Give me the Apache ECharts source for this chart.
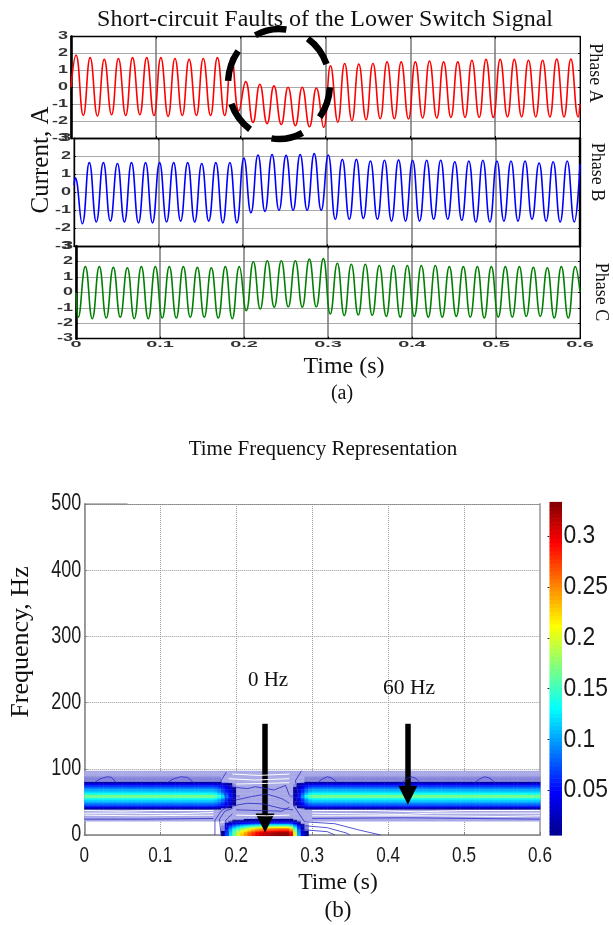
<!DOCTYPE html>
<html><head><meta charset="utf-8">
<style>html,body{margin:0;padding:0;background:#fff}#c{width:613px;height:925px}</style>
<script src="https://cdn.jsdelivr.net/npm/echarts@6/dist/echarts.min.js"></script>
</head><body><div id="c"></div>
<script>
// ---------- Panel (a): half-cycle extrema, one per 60 Hz cycle
const timeTicks = [0,0.1,0.2,0.3,0.4,0.5,0.6];
const currentTicks = [-3,-2,-1,0,1,2,3];
const freqTicks = [0,100,200,300,400,500];
const cyclePeriod = 0.016667;
const phaseAPeaks = [1.9,1.75,1.65,1.7,1.75,1.75,1.75,1.7,1.65,1.7,1.75,1.75,0.33,0.18,0.08,0,0,-0.05,1.27,1.4,1.37,1.4,1.5,1.5,1.5,1.55,1.5,1.5,1.6,1.65,1.65,1.65,1.6,1.6,1.66,1.66];
const phaseATroughs = [-1.67,-1.7,-1.63,-1.67,-1.63,-1.67,-1.72,-1.67,-1.67,-1.67,-1.67,-1.4,-2.08,-2.15,-2.2,-2.27,-2.33,-2.37,-2.06,-1.98,-1.92,-1.86,-1.86,-1.88,-1.82,-1.82,-1.78,-1.78,-1.78,-1.78,-1.75,-1.75,-1.75,-1.75,-1.75,-1.76];
const phaseBPeaks = [0.8,1.65,1.65,1.6,1.65,1.65,1.65,1.65,1.65,1.6,1.65,1.65,1.9,2.07,2.1,2.05,2.1,2.15,2.07,1.83,1.83,1.74,1.78,1.8,1.78,1.78,1.78,1.7,1.74,1.78,1.74,1.74,1.74,1.63,1.7,1.74];
const phaseBTroughs = [-1.75,-1.65,-1.6,-1.65,-1.7,-1.7,-1.65,-1.6,-1.65,-1.6,-1.7,-1.7,-1.14,-1.06,-1,-1,-1,-1,-1.5,-1.5,-1.45,-1.5,-1.6,-1.6,-1.6,-1.5,-1.5,-1.55,-1.65,-1.65,-1.6,-1.6,-1.5,-1.6,-1.65,-1.65];
const phaseCPeaks = [1.68,1.68,1.63,1.6,1.68,1.68,1.68,1.68,1.63,1.6,1.68,1.68,2,2.06,2.06,2.06,2.17,2.2,1.9,1.83,1.83,1.75,1.75,1.75,1.75,1.75,1.68,1.68,1.68,1.68,1.68,1.68,1.63,1.6,1.68,1.68];
const phaseCTroughs = [-1.6,-1.7,-1.66,-1.6,-1.7,-1.7,-1.66,-1.66,-1.6,-1.6,-1.66,-1.7,-1.18,-1.07,-0.95,-0.93,-0.95,-0.93,-1.4,-1.5,-1.46,-1.48,-1.55,-1.6,-1.55,-1.6,-1.6,-1.55,-1.6,-1.65,-1.6,-1.6,-1.55,-1.55,-1.65,-1.65];
const phaseAEnds = [[0,0],[0.6,-1.0]];
const phaseBEnds = [[0,0.4],[0.6,1.55]];
const phaseCEnds = [[0,0],[0.6,0.05]];
const phaseATimes = [0.0059,0.0145];   // first peak, first trough
const phaseBTimes = [0.0015,0.0098];
const phaseCTimes = [0.0111,0.0027];

// ---------- Panel (b): time-frequency table
const bandFreqs   = [22,24,26,28,30,32,34,36,38,40,42,44,46,48,50,52,54,56,58,60,62,64,66,68,70,72,74,76,78,80,82,84,86,88,90,92,94,96];
const bandLevels  = [.003,.003,.003,.003,.003,.0035,.0035,.0035,.0035,.012,.03,.055,.075,.09,.1,.11,.125,.14,.165,.165,.14,.125,.11,.103,.095,.08,.065,.05,.03,.012,.006,.006,.006,.006,.003,.003,.003,.003];
const faultColumnStart = 0.165;
const bandFaultGain = [1,.95,.85,.7,.5,.3,.12,.03,.02,.02,.02,.02,.02,.02,.02,.02,.02,.02,.02,.02,.02,.03,.12,.3,.55,.8,.95,1];
const dcFreqs  = [0,2,4,6,8,10,12,14,16,18,20,22,24,26];
const dcLevels = [.33,.33,.32,.3,.28,.25,.21,.17,.12,.07,.04,.02,.012,.005];
const dcFaultGain = [0,0,0,.03,.2,.36,.5,.6,.68,.74,.8,.85,.9,.93,.95,.96,.98,.99,1,1,1,.9,.6,.3,.1,.03,0,0];
const colorbarTicks = [0.05,0.1,0.15,0.2,0.25,0.3];
const contourHumps = [
  [[.013,79],[.021,85],[.03,88],[.036,87],[.042,79]],
  [[.109,79],[.118,85],[.127,88],[.136,87],[.144,79]],
  [[.307,79],[.314,85],[.32,88],[.326,86],[.333,79]],
  [[.418,79],[.424,85],[.43,88],[.436,86],[.442,79]],
  [[.514,79],[.521,85],[.527,88],[.534,86],[.54,79]],
  [[.19,55],[.2,53],[.22,58],[.24,62],[.26,55],[.27,48]],
  [[.195,44],[.215,48],[.235,47],[.26,40],[.275,38]],
  [[.2,38],[.23,37],[.26,36],[.27,42]],
  [[.19,73],[.215,70],[.225,73],[.25,68],[.265,75],[.27,60]],
  [[.172,0],[.172,22],[.18,36],[.19,44],[.185,60],[.18,82],[.187,95]],
  [[.18,0],[.178,24],[.185,36],[.195,40]],
  [[.19,0],[.186,22],[.195,32]],
  [[.286,97],[.278,82],[.282,60],[.276,44],[.284,30],[.29,20]],
  [[.29,20],[.33,17],[.36,8],[.39,0]],
  [[.29,14],[.32,11],[.345,3],[.35,0]],
  [[.288,8],[.32,5],[.33,0]],
  [[.0,24],[.08,24],[.17,25]],
  [[.3,25],[.42,26],[.6,24]]
];
const whiteStreaks = [
  [[0,37],[.05,36],[.09,37],[.17,37]],
  [[0,33],[.06,33],[.12,32],[.17,34]],
  [[0,30],[.07,29],[.17,30]],
  [[.3,37],[.38,37],[.44,35],[.5,37],[.6,37]],
  [[.3,33],[.42,31],[.46,33],[.6,33]],
  [[.3,29],[.45,29],[.55,28],[.6,29]],
  [[.195,92],[.23,90],[.27,92]],
  [[.19,85],[.225,83],[.27,85]],
  [[.2,77],[.24,78],[.27,79]],
  [[.2,30],[.24,29],[.27,30]]
];
const topStub = [[0,500.6],[0.057,500.6]];
const arrows = [[[0.238,168],[0.238,18]],[[0.426,168],[0.426,60]]];
const jetStops = [[0,[0,0,143]],[.125,[0,0,255]],[.375,[0,255,255]],[.625,[255,255,0]],[.875,[255,0,0]],[1,[128,0,0]]];
const colorRange = [0.0059,0.3328];

function jet(v){
  if(v<0.0045) return '#a8a8e6';
  if(v<0.0085) return '#8585da';
  const p=Math.min(1,Math.max(0,(v-colorRange[0])/(colorRange[1]-colorRange[0])));
  for(let i=1;i<jetStops.length;i++){
    if(p<=jetStops[i][0]){
      const a=jetStops[i-1],b=jetStops[i],k=(p-a[0])/(b[0]-a[0]);
      return 'rgb('+a[1].map((c,j)=>Math.round(c+(b[1][j]-c)*k)).join(',')+')';
    }
  }
  return 'rgb(128,0,0)';
}
function wave(peaks,troughs,times,ends){
  const pts=[ends[0]];
  peaks.forEach((v,k)=>pts.push([times[0]+k*cyclePeriod,v]));
  troughs.forEach((v,k)=>pts.push([times[1]+k*cyclePeriod,v]));
  pts.push(ends[1]);
  return pts.sort((a,b)=>a[0]-b[0]);
}
// heat cells
const heatCells=[];
for(let i=0;i<120;i++){
  const t=i*0.005+0.0025;
  const c=Math.round((t-0.0025-faultColumnStart)/0.005);
  const inFault=c>=0&&c<bandFaultGain.length;
  const bg=inFault?bandFaultGain[c]:1, dg=inFault?dcFaultGain[c]:0;
  const cells={};
  bandFreqs.forEach((f,j)=>{
    let v=bandLevels[j]*bg;
    if(v<0.003) v=0.003;
    cells[f]=v;
  });
  dcFreqs.forEach((f,j)=>{
    const v=dcLevels[j]*dg;
    if(v>(cells[f]||0)) cells[f]=v;
  });
  Object.keys(cells).forEach(f=>{ if(cells[f]>=0.002) heatCells.push([t,+f,cells[f]]); });
}
const barCells=[];
for(let v=colorRange[0];v<colorRange[1];v+=0.004) barCells.push([0.5,v]);

function axisPair(gridIndex){
  return [
   {gridIndex,type:'value',min:0,max:0.6,interval:0.1,position:'bottom',
    axisLine:{show:true,onZero:false,lineStyle:{color:'#000',width:1.4}},
    axisTick:{show:true,inside:true,length:2,lineStyle:{color:'#000'}},
    axisLabel:{show:false},
    splitLine:{show:true,lineStyle:{color:'#777',width:1.5}}},
   {gridIndex,type:'value',min:0,max:0.6,interval:0.1,position:'top',
    axisLine:{show:true,onZero:false,lineStyle:{color:'#000',width:1.4}},
    axisTick:{show:true,inside:true,length:2,lineStyle:{color:'#000'}},
    axisLabel:{show:false},splitLine:{show:false}}
  ];
}
function yPair(gridIndex,leftWidth,rightWidth){
  return [
   {gridIndex,type:'value',min:-3,max:3,interval:1,position:'left',
    axisLine:{show:true,onZero:false,lineStyle:{color:'#000',width:leftWidth}},
    axisTick:{show:true,inside:true,length:2,lineStyle:{color:'#000'}},
    axisLabel:{show:false},
    splitLine:{show:true,lineStyle:{color:'#aaa',width:1}}},
   {gridIndex,type:'value',min:-3,max:3,interval:1,position:'right',
    axisLine:{show:true,onZero:false,lineStyle:{color:'#000',width:rightWidth}},
    axisTick:{show:true,inside:true,length:2,lineStyle:{color:'#000'}},
    axisLabel:{show:false},splitLine:{show:false}}
  ];
}
const serif='"Liberation Serif","Times New Roman",serif';
const sans='"Liberation Sans",Arial,sans-serif';
function txt(s,x,y,size,rot){
  return {type:'text',x,y,rotation:rot||0,z:50,silent:true,
    style:{text:s,font:size+'px '+serif,fill:'#111',textAlign:'center',textVerticalAlign:'middle'}};
}
// Tick labels are stretched in the source figure, so they are drawn at axis positions through the axes' own scales.
function tickSeries(xi,yi,pts,o){
  return {type:'custom',xAxisIndex:xi,yAxisIndex:yi,data:pts.map(p=>[p[0],p[1]]),encode:{x:0,y:1},silent:true,clip:false,z:12,
    renderItem:(p,api)=>{
      const c=api.coord([api.value(0),api.value(1)]);
      return {type:'text',x:c[0]+(o.dx||0),y:c[1]+(o.dy||0),scaleX:o.sx,scaleY:o.sy||1,silent:true,
        style:{text:pts[p.dataIndex][2],font:(o.weight||'')+' '+o.size+'px '+sans,fill:o.fill||'#1a1a1a',textAlign:o.align,textVerticalAlign:'middle'}};
    }};
}
const yTicks=(x)=>currentTicks.map(v=>[x,v,String(v)]);
const multi=(arr,extra)=>arr.map(d=>Object.assign({type:'line',data:d,xAxisIndex:6,yAxisIndex:6,showSymbol:false,silent:true,animation:false,z:5},extra));

const xAxes=[...axisPair(0),...axisPair(1),...axisPair(2),
  {gridIndex:3,type:'value',min:0,max:0.6,interval:0.1,position:'bottom',
   axisLine:{show:true,onZero:false,lineStyle:{color:'#808080',width:1.5}},
   axisTick:{show:true,inside:true,length:3,lineStyle:{color:'#808080'}},
   axisLabel:{show:false},
   splitLine:{show:true,lineStyle:{color:'#9a9a9a',type:'dotted',width:1}}},
  {gridIndex:3,type:'value',min:0,max:0.6,interval:0.1,position:'top',
   axisLine:{show:true,onZero:false,lineStyle:{color:'#888',type:'dotted',width:1}},
   axisTick:{show:false},axisLabel:{show:false},splitLine:{show:false}},
  {gridIndex:4,type:'value',min:0,max:1,show:false}
];
const yAxes=[...yPair(0,2.6,1),...yPair(1,1.4,2.4),...yPair(2,2.6,1),
  {gridIndex:3,type:'value',min:0,max:500,interval:100,position:'left',
   axisLine:{show:true,onZero:false,lineStyle:{color:'#808080',width:1.5}},
   axisTick:{show:true,inside:true,length:3,lineStyle:{color:'#808080'}},
   axisLabel:{show:false},
   splitLine:{show:true,lineStyle:{color:'#9a9a9a',type:'dotted',width:1}}},
  {gridIndex:3,type:'value',min:0,max:500,interval:100,position:'right',
   axisLine:{show:true,onZero:false,lineStyle:{color:'#b0b0b0',width:2}},
   axisTick:{show:false},axisLabel:{show:false},splitLine:{show:false}},
  {gridIndex:4,type:'value',min:colorRange[0],max:colorRange[1],position:'right',
   axisLine:{show:false},
   axisTick:{show:true,inside:true,length:2,customValues:colorbarTicks,lineStyle:{color:'#222'}},
   axisLabel:{show:false},
   splitLine:{show:false}}
];
// axis order: x0..1 A, x2..3 B, x4..5 C, x6 heat, x7 heat top, x8 bar
const option={
  animation:false,backgroundColor:'#fff',
  grid:[
    {left:71,right:33,top:36.5,height:101.5},
    {left:74,right:33,top:138.3,height:108},
    {left:76,right:33,top:246.3,height:92.4},
    {left:84.3,right:73,top:504,height:331},
    {left:549.5,right:51,top:503,height:332}
  ],
  xAxis:xAxes,yAxis:yAxes,
  series:[
    {type:'line',name:'Phase A',xAxisIndex:0,yAxisIndex:0,data:wave(phaseAPeaks,phaseATroughs,phaseATimes,phaseAEnds),smooth:0.48,showSymbol:false,lineStyle:{color:'#ff0000',width:1.6},z:5},
    {type:'line',name:'Phase B',xAxisIndex:2,yAxisIndex:2,data:wave(phaseBPeaks,phaseBTroughs,phaseBTimes,phaseBEnds),smooth:0.48,showSymbol:false,lineStyle:{color:'#0000ff',width:1.6},z:5},
    {type:'line',name:'Phase C',xAxisIndex:4,yAxisIndex:4,data:wave(phaseCPeaks,phaseCTroughs,phaseCTimes,phaseCEnds),smooth:0.48,showSymbol:false,lineStyle:{color:'#008000',width:1.6},z:5},
    {type:'custom',name:'Time Frequency',xAxisIndex:6,yAxisIndex:6,data:heatCells,z:3,silent:true,clip:true,
      encode:{x:0,y:1},
      renderItem:(p,api)=>{
        const t=api.value(0),f=api.value(1);
        const a=api.coord([t-0.0025,f+1]),b=api.coord([t+0.0025,f-1]);
        return {type:'rect',shape:{x:a[0],y:a[1],width:b[0]-a[0]+0.4,height:b[1]-a[1]+0.4},style:{fill:jet(api.value(2))}};
      }},
    {type:'custom',name:'Colorbar',xAxisIndex:8,yAxisIndex:8,z:3,silent:true,
      data:barCells,encode:{x:0,y:1},
      renderItem:(p,api)=>{
        const v=api.value(1);
        const a=api.coord([0,v+0.004]),b=api.coord([1,v]);
        return {type:'rect',shape:{x:a[0],y:a[1],width:b[0]-a[0],height:b[1]-a[1]+0.6},style:{fill:jet(Math.max(v,0.0086))}};
      }},
    ...multi(whiteStreaks,{lineStyle:{color:'#ffffff',width:1}}),
    ...multi(contourHumps,{lineStyle:{color:'#2a2ac8',width:0.8}}),
    {type:'line',name:'stub',data:topStub,xAxisIndex:6,yAxisIndex:6,showSymbol:false,silent:true,lineStyle:{color:'#666',width:1},z:5},
    {type:'line',name:'arrows',data:[],xAxisIndex:6,yAxisIndex:6,silent:true,z:9,
      markLine:{silent:true,animation:false,symbol:['none','triangle'],symbolSize:[19,19],label:{show:false},
        lineStyle:{color:'#000',type:'solid',width:5.5},itemStyle:{color:'#000'},emphasis:{disabled:true},
        data:arrows.map(a=>[{coord:a[0]},{coord:a[1]}])}},
    tickSeries(0,0,yTicks(0),{dx:-3,size:10,sx:1.8,align:'right',weight:'bold',fill:'#333'}),
    tickSeries(2,2,yTicks(0),{dx:-3,size:10,sx:1.8,align:'right',weight:'bold',fill:'#333'}),
    tickSeries(4,4,yTicks(0),{dx:-3,size:10,sx:1.8,align:'right',weight:'bold',fill:'#333'}),
    tickSeries(4,4,timeTicks.map(v=>[v,-3,String(v)]),{dy:6,size:9.5,sx:2.1,align:'center',weight:'bold',fill:'#333'}),
    tickSeries(6,6,timeTicks.map(v=>[v,0,String(v)]),{dy:21,size:22,sx:0.78,align:'center'}),
    tickSeries(6,6,freqTicks.map(v=>[0,v,String(v)]),{dx:-3,size:23,sx:0.78,align:'right'}),
    tickSeries(8,8,colorbarTicks.map(v=>[1,v,String(v)]),{dx:1.5,size:26,sx:0.88,align:'left'})
  ],
  graphic:[
    {type:'ellipse',z:40,silent:true,shape:{cx:279,cy:84,rx:51,ry:55},
     style:{fill:null,stroke:'#000',lineWidth:6.5,lineDash:[32,23.5],lineDashOffset:-3}},
    txt('Short-circuit Faults of the Lower Switch Signal',325,20,24),
    txt('Phase A',595,73,18,-Math.PI/2),
    txt('Phase B',597,172,18,-Math.PI/2),
    txt('Phase C',601,292,18,-Math.PI/2),
    txt('Current, A',41.5,160,25,Math.PI/2),
    txt('Time (s)',344,367,24),
    txt('(a)',342,394,20),
    txt('Time Frequency Representation',323,449,21),
    txt('Frequency, Hz',21,642,26,Math.PI/2),
    txt('0 Hz',268,680,21),
    txt('60 Hz',409,688,21.5),
    txt('Time (s)',338,883,23.5),
    txt('(b)',338,911,23)
  ]
};
echarts.init(document.getElementById('c'),null,{renderer:'canvas'}).setOption(option);
</script></body></html>
